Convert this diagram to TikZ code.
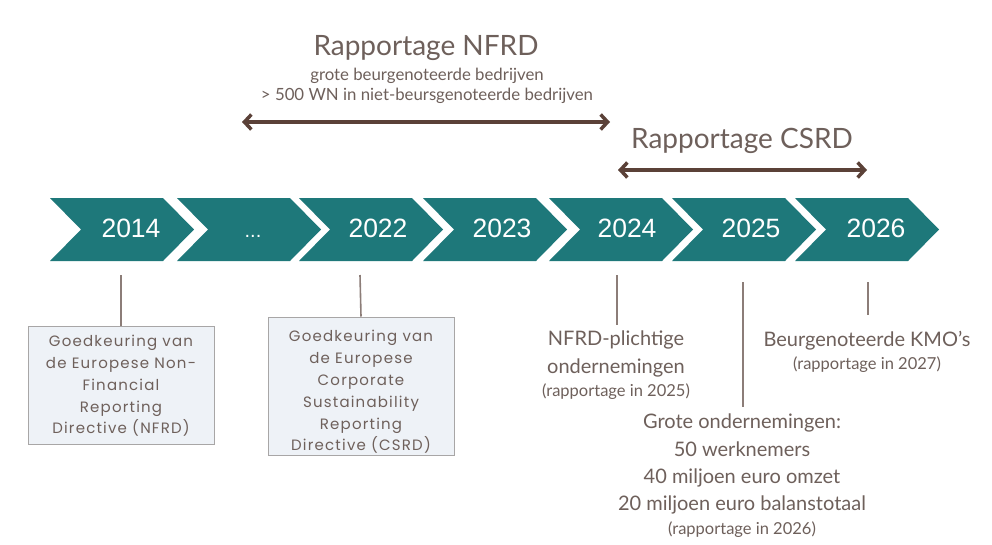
\documentclass[tikz,border=0pt]{standalone}
\usepackage{fontspec}
\setmainfont{Lato}
\newfontfamily\yearfont{Liberation Sans}
\newfontfamily\boxfont[LetterSpace=8]{Poppins}
\usetikzlibrary{arrows.meta}
\definecolor{chevteal}{HTML}{1E787A}
\definecolor{txtbrown}{HTML}{6E605B}
\definecolor{arrbrown}{HTML}{5B4138}
\definecolor{boxfill}{HTML}{EEF2F7}
\definecolor{boxline}{HTML}{A8A6A6}
\definecolor{tickcol}{HTML}{8C7D78}
\newcommand{\chevshape}[1]{%
  \fill[chevteal] (#1,198) -- ++(113,0) -- ++(31,31.5) -- ++(-31,31.5) -- ++(-113,0) -- ++(31,-31.5) -- cycle;}
\begin{document}
\begin{tikzpicture}[x=1pt,y=-1pt,
  yeartxt/.style={text=white,font=\yearfont\fontsize{26.5}{30}\selectfont,inner sep=0pt,anchor=base},
  titletxt/.style={text=txtbrown,font=\fontsize{28}{32}\selectfont,inner sep=0pt,anchor=base},
  subtxt/.style={text=txtbrown,font=\fontsize{16.8}{20}\selectfont,inner sep=0pt,anchor=base},
  lowtxt/.style={text=txtbrown,font=\fontsize{20}{27.3}\selectfont,inner sep=0pt,anchor=north,align=center},
  smalltxt/.style={font=\fontsize{16.5}{18}\selectfont},
  dirbox/.style={draw=boxline,fill=boxfill,line width=1pt,inner sep=0pt},
  boxtxt/.style={text=txtbrown,font=\boxfont\fontsize{15}{21.8}\selectfont,inner sep=0pt,align=center},
  bigarrow/.style={draw=arrbrown,line width=3.5pt,{Straight Barb[length=7pt,width=15pt]}-{Straight Barb[length=7pt,width=15pt]}},
  tickline/.style={draw=tickcol,line width=1.6pt}]
\useasboundingbox (0,0) rectangle (992,544);
\fill[white] (0,0) rectangle (992,544);

% chevrons
\chevshape{50}
\chevshape{177}
\chevshape{299}
\chevshape{423}
\chevshape{549}
\chevshape{672}
\chevshape{795}
\node[yeartxt] (y2014) at (131,237) {2014};
\node[yeartxt,font=\yearfont\fontsize{20}{24}\selectfont] (ydots) at (253,237) {...};
\node[yeartxt] (y2022) at (378,237) {2022};
\node[yeartxt] (y2023) at (502,237) {2023};
\node[yeartxt] (y2024) at (627,237) {2024};
\node[yeartxt] (y2025) at (751,237) {2025};
\node[yeartxt] (y2026) at (876,237) {2026};

% top: NFRD reporting
\node[titletxt] (nfrdtitle) at (426,55) {Rapportage NFRD};
\node[subtxt] (nfrdsub1) at (427,80) {grote beurgenoteerde bedrijven};
\node[subtxt] (nfrdsub2) at (427,100) {> 500 WN in niet-beursgenoteerde bedrijven};
\coordinate (nfrdL) at (242,122);
\coordinate (nfrdR) at (610,122);
\draw[bigarrow] (nfrdL) -- (nfrdR);

% top: CSRD reporting
\node[titletxt] (csrdtitle) at (742,148) {Rapportage CSRD};
\coordinate (csrdL) at (618,170);
\coordinate (csrdR) at (867,170);
\draw[bigarrow] (csrdL) -- (csrdR);

% boxes
\node[dirbox,minimum width=186pt,minimum height=118pt] (box1) at (121,385) {};
\node[boxtxt] (box1txt) at (121,386) {Goedkeuring van\\de Europese Non-\\Financial\\Reporting\\Directive (NFRD)};
\node[dirbox,minimum width=186pt,minimum height=138pt] (box2) at (361,386) {};
\node[boxtxt] (box2txt) at (361,392) {Goedkeuring van\\de Europese\\Corporate\\Sustainability\\Reporting\\Directive (CSRD)};
\coordinate (t1) at (121,275);
\coordinate (t2) at (360,275);
\draw[tickline] (t1) -- (box1.north);
\draw[tickline] (t2) -- (box2.north);

% lower texts
\node[lowtxt] (nfrdco) at (616,331) {NFRD-plichtige\\ondernemingen\\[-4pt]{\fontsize{16.5}{18}\selectfont (rapportage in 2025)}};
\node[lowtxt] (groteco) at (742,414) {Grote ondernemingen:\\50 werknemers\\40 miljoen euro omzet\\20 miljoen euro balanstotaal\\[-4pt]{\fontsize{16.5}{18}\selectfont (rapportage in 2026)}};
\node[lowtxt] (kmo) at (867,331) {Beurgenoteerde KMO's\\[-4pt]{\fontsize{16.5}{18}\selectfont (rapportage in 2027)}};
\coordinate (t3a) at (617,275);
\coordinate (t3b) at (617,325);
\coordinate (t4a) at (743,282);
\coordinate (t4b) at (743,407);
\coordinate (t5a) at (868,282);
\coordinate (t5b) at (868,315);
\draw[tickline] (t3a) -- (t3b);
\draw[tickline] (t4a) -- (t4b);
\draw[tickline] (t5a) -- (t5b);
\end{tikzpicture}
\end{document}
